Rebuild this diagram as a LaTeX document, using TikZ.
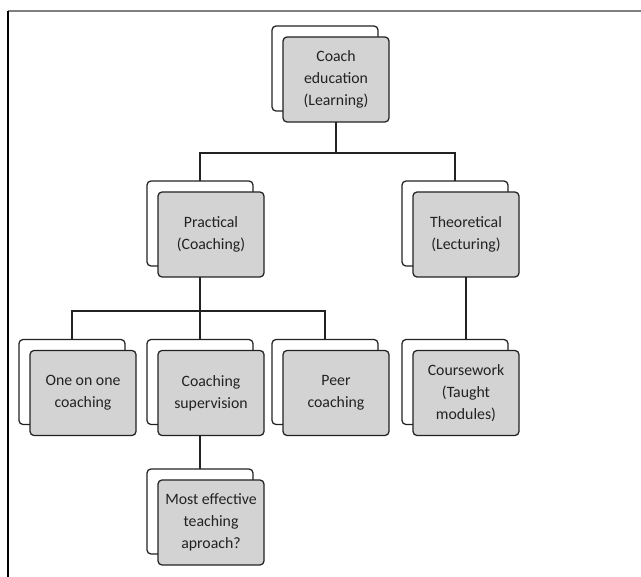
\documentclass[tikz,border=0pt]{standalone}
\usepackage{fontspec}
\setmainfont{Carlito}
\definecolor{boxgray}{HTML}{D3D3D3}
\definecolor{ink}{HTML}{222222}
\begin{document}
\begin{tikzpicture}[x=1pt,y=-1pt,
  back/.style={draw=ink, line width=1.25pt, rounded corners=4pt, fill=white,
    minimum width=106pt, minimum height=85pt, inner sep=0pt, outer sep=0pt},
  front/.style={back, fill=boxgray, align=center,
    font=\fontsize{15.8}{22}\selectfont, text=ink},
  conn/.style={draw=ink, line width=1.25pt}]
\useasboundingbox (0,0) rectangle (641,577);
% frame
\draw[draw=gray, line width=2pt] (7.5,11.5) -- (641,11.5);
\draw[draw=black, line width=1.4pt] (8,11.5) -- (8,577);
% top
\node[back] (cb) at (325,68.5) {};
\node[front] (c) at (336,79.5) {Coach\\education\\(Learning)};
% level 2
\node[back] (pb) at (200,223.5) {};
\node[front] (p) at (211,234.5) {Practical\\(Coaching)};
\node[back] (tb) at (455,223.5) {};
\node[front] (t) at (466,234.5) {Theoretical\\(Lecturing)};
% level 3
\node[back] (ob) at (72,382) {};
\node[front] (o) at (83,393) {One on one\\coaching};
\node[back] (sb) at (200,382) {};
\node[front] (s) at (211,393) {Coaching\\supervision};
\node[back] (eb) at (325,382) {};
\node[front] (e) at (336,393) {Peer\\coaching};
\node[back] (wb) at (455,382) {};
\node[front] (w) at (466,393) {Coursework\\(Taught\\modules)};
% level 4
\node[back] (mb) at (200,511.5) {};
\node[front] (m) at (211,522.5) {Most effective\\teaching\\aproach?};
% connectors
\coordinate (j1) at (336,153);
\draw[conn] (c.south) -- (j1);
\draw[conn] (pb.north) -- (pb.north |- j1) -- (tb.north |- j1) -- (tb.north);
\coordinate (j2) at (200,311);
\draw[conn] (pb.north |- p.south) -- (j2);
\draw[conn] (ob.north) -- (ob.north |- j2) -- (eb.north |- j2) -- (eb.north);
\draw[conn] (sb.north |- j2) -- (sb.north);
\draw[conn] (t.south) -- (t.south |- wb.north);
\draw[conn] (sb.north |- s.south) -- (mb.north);
\end{tikzpicture}
\end{document}
